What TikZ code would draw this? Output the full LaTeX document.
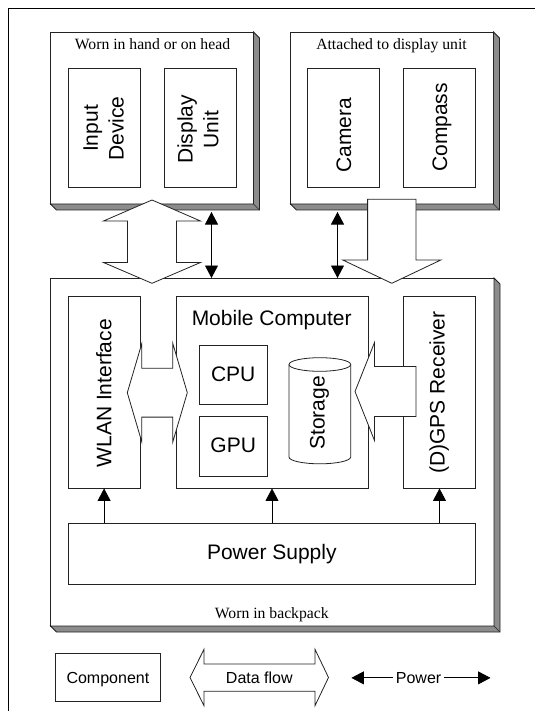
\documentclass[tikz,border=0pt]{standalone}
\usepackage{fontspec}
\setmainfont{Liberation Serif}
\setsansfont{Liberation Sans}
\usetikzlibrary{arrows.meta,calc}
\definecolor{lncol}{RGB}{35,35,35}
\definecolor{shdcol}{RGB}{140,140,140}
\newcommand{\dropshade}[1]{%
  \draw[shadowp] (#1.north east) -- ($(#1.north east)+(6,6)$) -- ($(#1.south east)+(6,6)$) -- ($(#1.south west)+(6,6)$) -- (#1.south west) -- (#1.south east) -- cycle;
  \draw[draw=lncol, line width=0.6pt] (#1.south east) -- ($(#1.south east)+(6,6)$);}
\begin{document}
\begin{tikzpicture}[x=1pt,y=-1pt,
  box/.style={draw=lncol, line width=0.8pt, fill=white, rectangle, inner sep=0pt, outer sep=0pt},
  lbl/.style={font=\sffamily\fontsize{21}{25.8}\selectfont, inner sep=0pt, text=black},
  rlbl/.style={lbl, rotate=90, anchor=base},
  hlbl/.style={lbl, anchor=base},
  ttl/.style={font=\fontsize{15.7}{18}\selectfont, inner sep=0pt, anchor=base, text=black},
  leg/.style={font=\sffamily\fontsize{16}{19}\selectfont, inner sep=0pt, text=black},
  shadowp/.style={draw=lncol, line width=0.8pt, fill=shdcol, line join=miter},
  blk/.style={draw=lncol, line width=0.8pt, fill=white, line join=miter},
  pw/.style={draw=black, line width=0.8pt, -{Triangle[length=12.5pt,width=13pt]}},
  pwtwo/.style={draw=black, line width=0.8pt, {Triangle[length=12.5pt,width=13pt]}-{Triangle[length=12.5pt,width=13pt]}},
]
\useasboundingbox (0,0) rectangle (535,711);
% outer frame (top and left edges)
\draw[draw=black, line width=0.8pt] (8,711) -- (8,8) -- (535,8);

% group boxes
\node[box, minimum width=203pt, minimum height=172pt] (hand) at (152,118) {};
\node[box, minimum width=203pt, minimum height=172pt] (disp) at (392,118) {};
\node[box, minimum width=443.5pt, minimum height=348pt] (pack) at (272.25,452) {};
\dropshade{hand}
\dropshade{disp}
\dropshade{pack}

\node[ttl] (thand) at (152.5,49.3) {Worn in hand or on head};
\node[ttl] (tdisp) at (391.5,49.3) {Attached to display unit};
\node[ttl] (tpack) at (271.8,618.7) {Worn in backpack};

% components on hand/head
\node[box, minimum width=72pt, minimum height=119pt] (input) at (104.5,127.5) {};
\node[box, minimum width=72pt, minimum height=119pt] (display) at (200,127.5) {};
\node[box, minimum width=72pt, minimum height=119pt] (camera) at (343.6,127.5) {};
\node[box, minimum width=72pt, minimum height=119pt] (compass) at (439.5,127.5) {};
\node[lbl, rotate=90, anchor=center, align=center] (inputl) at (103.7,128.5) {Input\\Device};
\node[lbl, rotate=90, anchor=center, align=center] (displayl) at (198,129.5) {Display\\Unit};
\node[rlbl] (cameral) at (351.1,135) {Camera};
\node[rlbl] (compassl) at (447,127.4) {Compass};

% backpack components
\node[box, minimum width=72pt, minimum height=192.5pt] (wlan) at (104.1,392.2) {};
\node[box, minimum width=192pt, minimum height=192.5pt] (mc) at (272,392.2) {};
\node[box, minimum width=72pt, minimum height=192.5pt] (gps) at (439.5,392.2) {};
\node[box, minimum width=407pt, minimum height=60.7pt] (psu) at (271.8,553.7) {};
\node[box, minimum width=67.7pt, minimum height=59.3pt] (cpu) at (233.2,374.7) {};
\node[box, minimum width=67.7pt, minimum height=59.3pt] (gpu) at (233.2,446.3) {};

\node[rlbl] (wlanl) at (111.3,393.3) {WLAN Interface};
\node[rlbl] (gpsl) at (444.5,392.5) {(D)GPS Receiver};
\node[hlbl] (mcl) at (271.7,325.7) {Mobile Computer};
\node[hlbl] (cpul) at (233.2,381) {CPU};
\node[hlbl] (gpul) at (233.2,452.6) {GPU};
\node[hlbl] (psul) at (271.8,559.5) {Power Supply};

% storage cylinder
\draw[blk] (289,364.5) -- (289,457)
  .. controls (289,460.76) and (302.81,463.8) .. (319.85,463.8)
  .. controls (336.89,463.8) and (350.7,460.76) .. (350.7,457)
  -- (350.7,364.5)
  .. controls (350.7,360.74) and (336.89,357.7) .. (319.85,357.7)
  .. controls (302.81,357.7) and (289,360.74) .. (289,364.5) -- cycle;
\draw[draw=lncol, line width=0.8pt] (289,364.5)
  .. controls (289,368.26) and (302.81,371.3) .. (319.85,371.3)
  .. controls (336.89,371.3) and (350.7,368.26) .. (350.7,364.5);
\node[rlbl] (storagel) at (324.5,412.9) {Storage};

% data flow block arrows
\draw[blk] (152,200) -- (200.5,221) -- (176.5,221) -- (176.5,262.5) -- (200.5,262.5)
  -- (152,283.3) -- (103.5,262.5) -- (127.5,262.5) -- (127.5,221) -- (103.5,221) -- cycle;
\draw[blk] (367.6,199.3) -- (416,199.3) -- (416,260) -- (440.8,260) -- (391.8,283.3)
  -- (342.8,260) -- (367.6,260) -- cycle;
\draw[blk] (127.3,392.7) -- (141.8,343.5) -- (141.8,368.3) -- (172.8,368.3) -- (172.8,343.5)
  -- (187.3,392.7) -- (172.8,441.9) -- (172.8,417.1) -- (141.8,417.1) -- (141.8,441.9) -- cycle;
\draw[blk] (355,391.5) -- (374.5,342.5) -- (374.5,366.5) -- (416,366.5) -- (416,416.5)
  -- (374.5,416.5) -- (374.5,440.5) -- cycle;

% power connections
\coordinate (p1) at (211.5,212);
\coordinate (p2) at (337.5,212);
\draw[pwtwo] (p1) -- (p1 |- pack.north);
\draw[pwtwo] (p2) -- (p2 |- pack.north);
\draw[pw] (psu.north -| wlan.south) -- (wlan.south);
\draw[pw] (psu.north -| mc.south) -- (mc.south);
\draw[pw] (psu.north -| gps.south) -- (gps.south);

% legend
\node[box, minimum width=105pt, minimum height=48.4pt] (comp) at (107.9,677.5) {};
\node[leg, anchor=base] (compl) at (107.9,683.3) {Component};
\draw[blk] (190,677.5) -- (204,649.3) -- (204,664) -- (315,664) -- (315,649.3) -- (328.5,677.5)
  -- (315,705.7) -- (315,691.3) -- (204,691.3) -- (204,705.7) -- cycle;
\node[leg, anchor=base] (dfl) at (259.3,683.3) {Data flow};
\node[leg, anchor=base, inner xsep=3pt] (pwrl) at (418.6,683.3) {Power};
\coordinate (pwL) at (351.4,677.6);
\coordinate (pwR) at (490.5,677.6);
\draw[pw] (pwrl.west) -- (pwrl.west -| pwL);
\draw[pw] (pwrl.east) -- (pwrl.east -| pwR);
\end{tikzpicture}
\end{document}
